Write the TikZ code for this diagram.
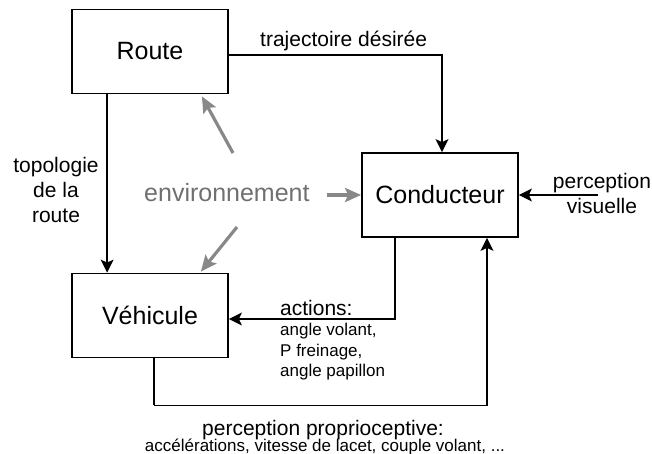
\documentclass[tikz,border=0pt]{standalone}
\usepackage{fontspec}
\setmainfont{Liberation Sans}
\usetikzlibrary{arrows.meta,calc}
\definecolor{envgray}{HTML}{888888}
\definecolor{envtext}{HTML}{707070}
\begin{document}
\begin{tikzpicture}[x=1pt,y=-1pt,
  block/.style={draw,line width=1.8pt,minimum width=156pt,minimum height=84pt,
    inner sep=0pt,font=\fontsize{25}{30}\selectfont},
  conn/.style={line width=1.3pt,-{Stealth[length=13pt,width=13pt,inset=3pt]}},
  link/.style={line width=1.3pt},
  envarrow/.style={line width=3.2pt,envgray,-{Stealth[length=16pt,width=14pt,inset=3pt]}},
  lbl/.style={font=\fontsize{21}{25}\selectfont,inner sep=0pt},
  small/.style={font=\fontsize{17}{20.5}\selectfont,inner sep=0pt}]
\useasboundingbox (0,0) rectangle (652,454);

% the three blocks
\node[block] (route) at (150,51.5) {Route};
\node[block] (conducteur) at (440,195) {Conducteur};
\node[block] (vehicule) at (150,315.5) {Véhicule};

% labels
\node[lbl,anchor=base west] (traj) at (260,47) {trajectoire désirée};
\node[lbl,align=center] (topo) at (56,190) {topologie\\de la\\route};
\node[lbl,anchor=base west,text=envtext,font=\fontsize{25}{30}\selectfont] (env) at (144,202) {environnement};
\node[lbl,align=center] (visu) at (602,193) {perception\\visuelle};
\node[lbl,anchor=base west] (act) at (280,315) {actions:};
\node[small,align=left,anchor=north west] (actlist) at (280,323) {angle volant,\\P freinage,\\angle papillon};
\node[lbl,anchor=base] (prop) at (323,435) {perception proprioceptive:};
\node[small,anchor=base] (proplist) at (325,451) {accélérations, vitesse de lacet, couple volant, ...};

% black connectors
\draw[conn] ($(route.east)+(0,3.5)$) -| ($(conducteur.north)+(2,0)$);
\draw[conn] ($(route.south west)+(36,0)$) -- ($(vehicule.north west)+(36,0)$);
\draw[conn] ($(conducteur.south)+(-45,0)$) |- ($(vehicule.east)+(0,3.5)$);
\draw[link] ($(vehicule.south)+(4,0)$) -- ++(0,47) coordinate (pbend);
\draw[conn] (pbend) -| ($(conducteur.south)+(47,0)$);
\coordinate (pv) at (598,195);
\draw[conn] (pv) -- (conducteur.east);

% influence of the environment
\coordinate (envup) at (233,153);
\coordinate (envdown) at (237,227);
\coordinate (envright) at (327,195);
\draw[envarrow] (envup) -- ($(route.south east)+(-27,2)$);
\draw[envarrow] (envdown) -- ($(vehicule.north east)+(-28,-1)$);
\draw[envarrow] (envright) -- (conducteur.west);
\end{tikzpicture}
\end{document}
